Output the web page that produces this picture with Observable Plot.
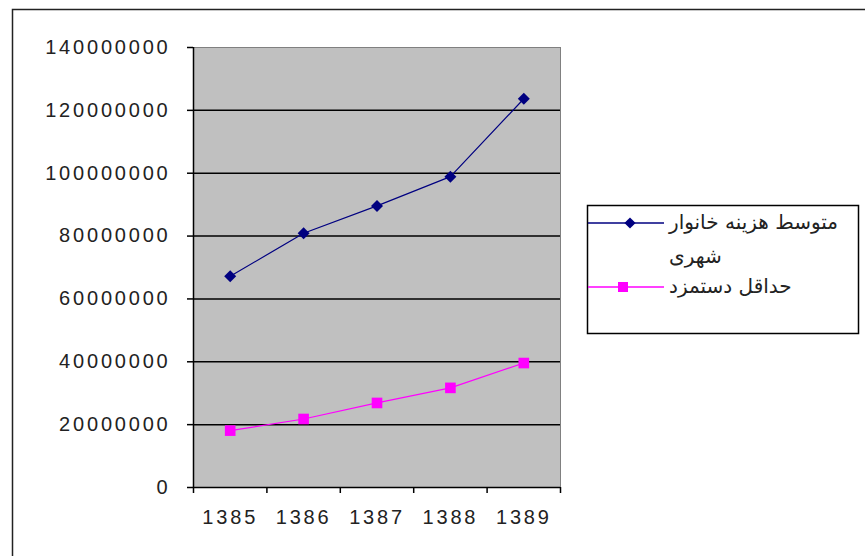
<!DOCTYPE html>
<html>
<head>
<meta charset="utf-8">
<script src="https://cdn.jsdelivr.net/npm/d3@7"></script>
<script src="https://cdn.jsdelivr.net/npm/@observablehq/plot@0.6"></script>
<style>
  html, body { margin: 0; padding: 0; background: white; }
  #chart svg g[aria-label="y-axis tick label"] text,
  #chart svg g[aria-label="x-axis tick label"] text { letter-spacing: 2.8px; }
</style>
</head>
<body>
<div id="chart"></div>
<script>
const years = [1385, 1386, 1387, 1388, 1389];
const household = [67200000, 80900000, 89600000, 98900000, 123700000];
const minWage = [18100000, 21800000, 26900000, 31700000, 39600000];
const yTicks = [0, 20000000, 40000000, 60000000, 80000000, 100000000, 120000000, 140000000];
const seriesNames = ["متوسط هزینه خانوار شهری", "حداقل دستمزد"];
const legendLines = [["متوسط هزینه خانوار", "شهری"], ["حداقل دستمزد"]];
const colors = ["#000080", "#ff00ff"];

const hhData = years.map((y, i) => ({year: y, value: household[i]}));
const mwData = years.map((y, i) => ({year: y, value: minWage[i]}));
const bandEdges = [years[0] - 0.5, ...years.map(y => y + 0.5)];

const svg = Plot.plot({
  width: 865,
  height: 556,
  marginLeft: 193,
  marginRight: 305,
  marginTop: 47,
  marginBottom: 69,
  style: {fontFamily: "'Liberation Sans', Arial, sans-serif", fontSize: "20px", background: "white", color: "#222", overflow: "visible"},
  x: {domain: [years[0] - 0.5, years[years.length - 1] + 0.5], axis: null, label: null},
  y: {domain: [0, 140000000], axis: null, label: null},
  marks: [
    Plot.frame({fill: "#c0c0c0", stroke: "#808080"}),
    Plot.gridY(yTicks.filter(d => d > 0 && d < 140000000), {stroke: "black", strokeOpacity: 1, strokeWidth: 1.5}),
    Plot.ruleX([years[0] - 0.5], {stroke: "black", strokeWidth: 1.5}),
    Plot.ruleY([0], {stroke: "black", strokeWidth: 1.5}),
    Plot.axisY(yTicks, {tickSize: 6, tickPadding: 17, tickFormat: d => String(d), label: null, stroke: "black", strokeWidth: 1.5}),
    Plot.axisX(bandEdges, {tickSize: 6, tickFormat: () => "", label: null, stroke: "black", strokeWidth: 1.5}),
    Plot.axisX(years, {tickSize: 0, tickPadding: 22, tickFormat: d => String(d), label: null}),
    Plot.line(hhData, {x: "year", y: "value", stroke: colors[0], strokeWidth: 1.2}),
    Plot.dot(hhData, {x: "year", y: "value", symbol: "diamond2", fill: colors[0], r: 5.4}),
    Plot.line(mwData, {x: "year", y: "value", stroke: colors[1], strokeWidth: 1.2}),
    Plot.dot(mwData, {x: "year", y: "value", symbol: "square", fill: colors[1], r: 6})
  ]
});

const s = d3.select(svg);
// outer chart border
s.append("rect").attr("x", 12.5).attr("y", 9.5).attr("width", 1000).attr("height", 1000)
  .attr("fill", "none").attr("stroke", "#222").attr("stroke-width", 1.5);

// legend
const lg = s.append("g");
lg.append("rect").attr("x", 587.5).attr("y", 205.5).attr("width", 271).attr("height", 128)
  .attr("fill", "white").attr("stroke", "black").attr("stroke-width", 1.5);
const entryY = [223, 287];
const symbols = [d3.symbolDiamond2, d3.symbolSquare];
const symSize = [80, 100];
const symX = [630, 623];
entryY.forEach((y, i) => {
  lg.append("line").attr("x1", 588).attr("x2", 664).attr("y1", y).attr("y2", y)
    .attr("stroke", colors[i]).attr("stroke-width", 1.5);
  lg.append("path").attr("d", d3.symbol(symbols[i], symSize[i])())
    .attr("transform", `translate(${symX[i]},${y})`).attr("fill", colors[i]);
  legendLines[i].forEach((t, j) => {
    lg.append("text").attr("x", 669).attr("y", y + j * 34)
      .attr("dominant-baseline", "middle")
      .attr("direction", "rtl")
      .attr("text-anchor", "end")
      .attr("font-family", "'DejaVu Sans', sans-serif").attr("font-size", 20)
      .attr("fill", "#222").text(t);
  });
});
lg.append("title").text(seriesNames.join(" / "));

document.getElementById("chart").appendChild(svg);
</script>
</body>
</html>
